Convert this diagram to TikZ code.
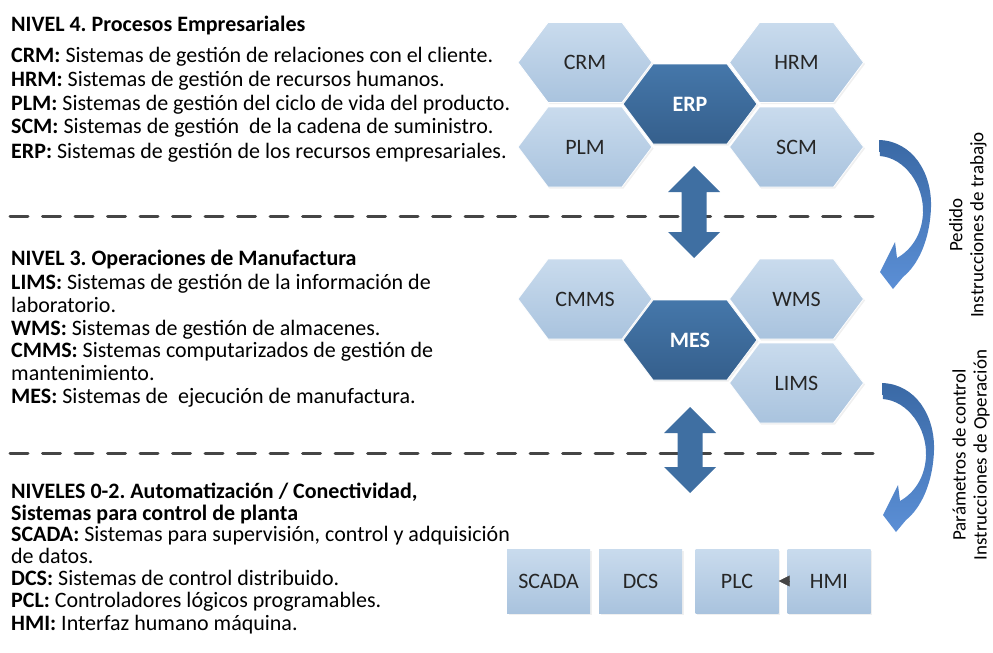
\documentclass[tikz,border=0pt]{standalone}
\usepackage{fontspec}
\setmainfont{Carlito}
\frenchspacing
\usetikzlibrary{arrows.meta,shadows}
\definecolor{hexTop}{HTML}{C9DBED}
\definecolor{hexBot}{HTML}{A9C3DE}
\definecolor{darkTop}{HTML}{4577AA}
\definecolor{darkBot}{HTML}{355F8C}
\definecolor{arrBlue}{HTML}{3F6FA2}
\definecolor{curTop}{HTML}{3A69A5}
\definecolor{curBot}{HTML}{5B8FD6}
\definecolor{dashGray}{HTML}{454545}
\tikzset{
  txt/.style={anchor=base west,inner sep=0pt,font=\fontsize{22}{24}\selectfont},
  vtxt/.style={rotate=90,align=center,inner sep=0pt,font=\fontsize{19}{21}\selectfont},
  shadowed/.style={drop shadow={shadow xshift=1.5pt,shadow yshift=-1.5pt,fill=black!30,opacity=0.2}},
  lighthex/.style={top color=hexTop,bottom color=hexBot,draw=white,line width=0.8pt,shadowed},
  darkhex/.style={top color=darkTop,bottom color=darkBot,draw=white,line width=0.8pt,shadowed},
  hexlabel/.style={inner sep=0pt,font=\fontsize{22}{24}\selectfont,text=black!85},
  darklabel/.style={inner sep=0pt,font=\bfseries\fontsize{22}{24}\selectfont,text=white},
  boxnode/.style={rectangle,minimum width=83pt,minimum height=64pt,inner sep=0pt,
    top color=hexTop,bottom color=hexBot,shadowed,font=\fontsize{22}{24}\selectfont,text=black!85},
  dashline/.style={draw=dashGray,line width=3pt,line cap=round,dash pattern=on 18pt off 14.5pt},
  dblarrow/.style={fill=arrBlue},
  curved/.style={top color=curTop,bottom color=curBot}
}
\newcommand{\hexshape}[3]{%
  \path[#1] (#2-67,#3) -- (#2-37,#3-40) -- (#2+37,#3-40) -- (#2+67,#3) -- (#2+37,#3+40) -- (#2-37,#3+40) -- cycle;}
\newcommand{\dblarrowshape}[5]{% cx, toptip, topbase, bottombase, bottomtip
  \path[dblarrow] (#1,#2) -- (#1+26,#3) -- (#1+12.5,#3) -- (#1+12.5,#4) -- (#1+26,#4) -- (#1,#5)
   -- (#1-26,#4) -- (#1-12.5,#4) -- (#1-12.5,#3) -- (#1-26,#3) -- cycle;}
\newcommand{\curvedarrowshape}{%
  \path[curved] (879,140) .. controls (912,141) and (932,172) .. (931,207)
    .. controls (930,240) and (918,265) .. (903,277) -- (893,289) -- (880,272) -- (895,242) -- (897,258)
    .. controls (911,250) and (922,235) .. (923,213)
    .. controls (924,185) and (905,158) .. (880,156) -- cycle;}
\begin{document}
\begin{tikzpicture}[x=1pt,y=-1pt]
\path[use as bounding box] (0,0) rectangle (993,653);

% ---------- left texts ----------
\node[txt] (t4) at (11,31) {\textbf{NIVEL 4. Procesos Empresariales}};
\node[txt] (t4a) at (11,62) {\textbf{CRM:} Sistemas de gestión de relaciones con el cliente.};
\node[txt] (t4b) at (11,86) {\textbf{HRM:} Sistemas de gestión de recursos humanos.};
\node[txt] (t4c) at (11,110) {\textbf{PLM:} Sistemas de gestión del ciclo de vida del producto.};
\node[txt] (t4d) at (11,133) {\textbf{SCM:} Sistemas de gestión\ \ de la cadena de suministro.};
\node[txt] (t4e) at (11,158) {\textbf{ERP:} Sistemas de gestión de los recursos empresariales.};

\node[txt] (t3) at (11,265) {\textbf{NIVEL 3. Operaciones de Manufactura}};
\node[txt] (t3a) at (11,289) {\textbf{LIMS:} Sistemas de gestión de la información de};
\node[txt] (t3b) at (11,312) {laboratorio.};
\node[txt] (t3c) at (11,335) {\textbf{WMS:} Sistemas de gestión de almacenes.};
\node[txt] (t3d) at (11,357) {\textbf{CMMS:} Sistemas computarizados de gestión de};
\node[txt] (t3e) at (11,380) {mantenimiento.};
\node[txt] (t3f) at (11,403) {\textbf{MES:} Sistemas de\ \ ejecución de manufactura.};

\node[txt] (t0) at (11,498) {\textbf{NIVELES 0-2. Automatización / Conectividad,}};
\node[txt] (t0a) at (11,520) {\textbf{Sistemas para control de planta}};
\node[txt] (t0b) at (11,541) {\textbf{SCADA:} Sistemas para supervisión, control y adquisición};
\node[txt] (t0c) at (11,563) {de datos.};
\node[txt] (t0d) at (11,585) {\textbf{DCS:} Sistemas de control distribuido.};
\node[txt] (t0e) at (11,607) {\textbf{PCL:} Controladores lógicos programables.};
\node[txt] (t0f) at (11,630) {\textbf{HMI:} Interfaz humano máquina.};

% ---------- dashed separators ----------
\coordinate (d1a) at (10,216); \coordinate (d1b) at (874,216);
\coordinate (d2a) at (10,453); \coordinate (d2b) at (874,453);
\draw[dashline] (d1a) -- (d1b);
\draw[dashline] (d2a) -- (d2b);

% ---------- level 4 hexagons ----------
\hexshape{lighthex}{585}{62.5}
\hexshape{lighthex}{796.5}{62.5}
\hexshape{lighthex}{585}{147}
\hexshape{lighthex}{796.5}{147}
\hexshape{darkhex}{690}{104}
\node[hexlabel] (crm) at (585,62.5) {CRM};
\node[hexlabel] (hrm) at (796.5,62.5) {HRM};
\node[hexlabel] (plm) at (585,147) {PLM};
\node[hexlabel] (scm) at (796.5,147) {SCM};
\node[darklabel] (erp) at (690,104) {ERP};

% ---------- level 3 hexagons ----------
\hexshape{lighthex}{585}{299}
\hexshape{lighthex}{796.5}{299}
\hexshape{lighthex}{796.5}{383}
\hexshape{darkhex}{690}{340}
\node[hexlabel] (cmms) at (585,299) {CMMS};
\node[hexlabel] (wms) at (796.5,299) {WMS};
\node[hexlabel] (lims) at (796.5,383) {LIMS};
\node[darklabel] (mes) at (690,340) {MES};

% ---------- double arrows ----------
\dblarrowshape{694}{166}{192}{232}{258}
\dblarrowshape{690}{407}{433}{467}{493}

% ---------- curved arrows ----------
\curvedarrowshape
\begin{scope}[shift={(3,243)}]
\curvedarrowshape
\end{scope}

% ---------- vertical labels ----------
\node[vtxt] (lab1) at (968,225) {Pedido\\Instrucciones de trabajo};
\node[vtxt] (lab2) at (971,455) {Parámetros de control\\Instrucciones de Operación};

% ---------- level 0-2 boxes ----------
\node[boxnode] (scada) at (548.5,581) {SCADA};
\node[boxnode] (dcs) at (640.5,581) {DCS};
\node[boxnode] (plc) at (737,581) {PLC};
\node[boxnode] (hmi) at (829,581) {HMI};
\draw[draw=dashGray,fill=dashGray,line width=0.5pt,-{Triangle[length=11pt,width=11pt]}] (hmi.west) -- (plc.east);
\end{tikzpicture}
\end{document}
